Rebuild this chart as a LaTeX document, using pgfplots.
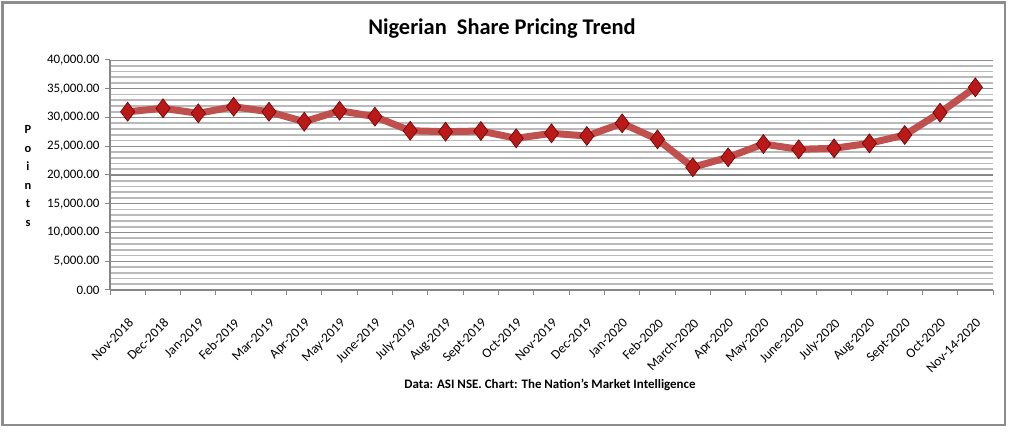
\documentclass[border=0pt]{standalone}
\usepackage{pgfplots}
\pgfplotsset{compat=1.18}
\usepackage{fontspec}
\setmainfont{Carlito}
\definecolor{linered}{RGB}{192,80,77}
\definecolor{markred}{RGB}{185,25,25}
\definecolor{markdark}{RGB}{110,0,0}
\definecolor{framegray}{RGB}{140,140,140}
\definecolor{axisgray}{RGB}{134,134,134}
\definecolor{majgrid}{RGB}{140,140,140}
\definecolor{mingrid}{RGB}{185,185,185}
\begin{document}
\begin{tikzpicture}
\useasboundingbox (0,0) rectangle (1009bp,438bp);
\draw[color=framegray, line width=2.5bp] (2.5bp,13bp) rectangle (1005bp,435.5bp);
\node[font=\fontsize{22.5}{26}\selectfont\bfseries] at (502bp,409bp) {Nigerian\ \ Share Pricing Trend};
\node[font=\fontsize{13}{15}\selectfont\bfseries] at (550bp,53bp) {Data: ASI NSE. Chart: The Nation's Market Intelligence};
\node[font=\fontsize{12.5}{18.7}\selectfont\bfseries, align=center] at (28bp,262bp) {P\\o\\i\\n\\t\\s};
\begin{axis}[
  at={(110bp,148bp)}, anchor=south west,
  scale only axis, width=883bp, height=230bp,
  xmin=0.5, xmax=25.5, ymin=0, ymax=40000,
  xtick={0.5,1.5,...,25.5}, xticklabels={},
  extra x ticks={1,2,...,25},
  extra x tick labels={Nov-2018,Dec-2018,Jan-2019,Feb-2019,Mar-2019,Apr-2019,May-2019,June-2019,July-2019,Aug-2019,Sept-2019,Oct-2019,Nov-2019,Dec-2019,Jan-2020,Feb-2020,March-2020,Apr-2020,May-2020,June-2020,July-2020,Aug-2020,Sept-2020,Oct-2020,Nov-14-2020},
  extra x tick style={major tick length=0pt, tick label style={rotate=45, anchor=north east, font=\fontsize{13.5}{14}\selectfont, xshift=-16bp, yshift=-16bp}},
  ytick={0,5000,...,40000},
  minor y tick num=4,
  ymajorgrids, yminorgrids,
  major grid style={draw=majgrid, line width=0.9bp},
  minor grid style={draw=mingrid, line width=1.8bp},
  tick align=outside, major tick length=5bp, minor tick length=0pt,
  axis x line*=bottom, axis y line*=left,
  axis line style={draw=axisgray, line width=1.2bp, -},
  tick style={draw=axisgray, line width=1bp},
  y tick label style={font=\fontsize{13}{15}\selectfont, xshift=-2bp, /pgf/number format/.cd, fixed, fixed zerofill, precision=2, 1000 sep={,}, assume math mode=true},
  scaled y ticks=false,
  clip=false,
]
\addplot[draw=axisgray, line width=2.5bp, no marks, forget plot] coordinates {(0.5,20000) (25.5,20000)};
\addplot[color=linered, line width=7bp, mark=diamond*, mark size=9.5bp,
  mark options={fill=markred, draw=markdark, line width=0.6bp}]
  coordinates {
  (1,31000) (2,31600) (3,30730) (4,31880) (5,31000)
  (6,29270) (7,31180) (8,30140) (9,27700) (10,27530)
  (11,27650) (12,26380) (13,27250) (14,26780) (15,28990)
  (16,26200) (17,21340) (18,23080) (19,25390) (20,24470)
  (21,24640) (22,25510) (23,26960) (24,30840) (25,35250)
  };
\end{axis}
\end{tikzpicture}
\end{document}
